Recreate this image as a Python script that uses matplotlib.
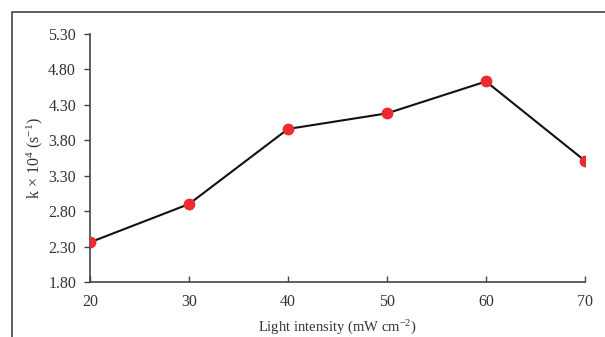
import matplotlib.pyplot as plt
from matplotlib.lines import Line2D

intensity = [20, 30, 40, 50, 60, 70]
k_vals = [2.36, 2.90, 3.96, 4.18, 4.63, 3.51]
yticks = [1.80, 2.30, 2.80, 3.30, 3.80, 4.30, 4.80, 5.30]

plt.rcParams['font.family'] = ['Liberation Serif', 'DejaVu Serif']
plt.rcParams['mathtext.fontset'] = 'custom'
plt.rcParams['mathtext.rm'] = 'Liberation Serif'
plt.rcParams['mathtext.it'] = 'Liberation Serif:italic'
txt = '#333333'

fig = plt.figure(figsize=(6.05, 3.37), dpi=100)
ax = fig.add_axes([90/605, 1-282/337, (585-90)/605, (282-34)/337])

ax.plot(intensity, k_vals, color='#111111', lw=1.5, zorder=2)
ax.plot(intensity, k_vals, 'o', color='#ec2a2f', ms=8.5, mec='none', zorder=3)

ax.set_xlim(20, 70)
ax.set_ylim(1.80, 5.30)
ax.set_xticks(intensity)
ax.set_yticks(yticks)
ax.set_yticklabels(['%.2f' % v for v in yticks])
for s in ['top', 'right']:
    ax.spines[s].set_visible(False)
for s in ['left', 'bottom']:
    ax.spines[s].set_color('#444444')
    ax.spines[s].set_linewidth(1.2)
ax.tick_params(axis='y', direction='out', length=4, width=1, color='#444444',
               labelsize=11.5, labelcolor=txt, pad=6)
ax.tick_params(axis='x', direction='in', length=4, width=1, color='#444444',
               labelsize=11.5, labelcolor=txt, pad=9)

ax.set_xlabel('Light intensity (mW cm$^{\\mathrm{-2}}$)', fontsize=10.5, color=txt, labelpad=6)
ax.set_ylabel('k × 10$^{\\mathrm{4}}$ (s$^{\\mathrm{-1}}$)', fontsize=11.5, color=txt, labelpad=2)

# outer frame (only top and left are visible in the crop)
y0 = 1 - 12/337
x0 = 12/605
fig.add_artist(Line2D([x0, x0, 1], [0, y0, y0], transform=fig.transFigure,
                      color='#444444', lw=1.2))

fig.savefig('out.png', dpi=100)
